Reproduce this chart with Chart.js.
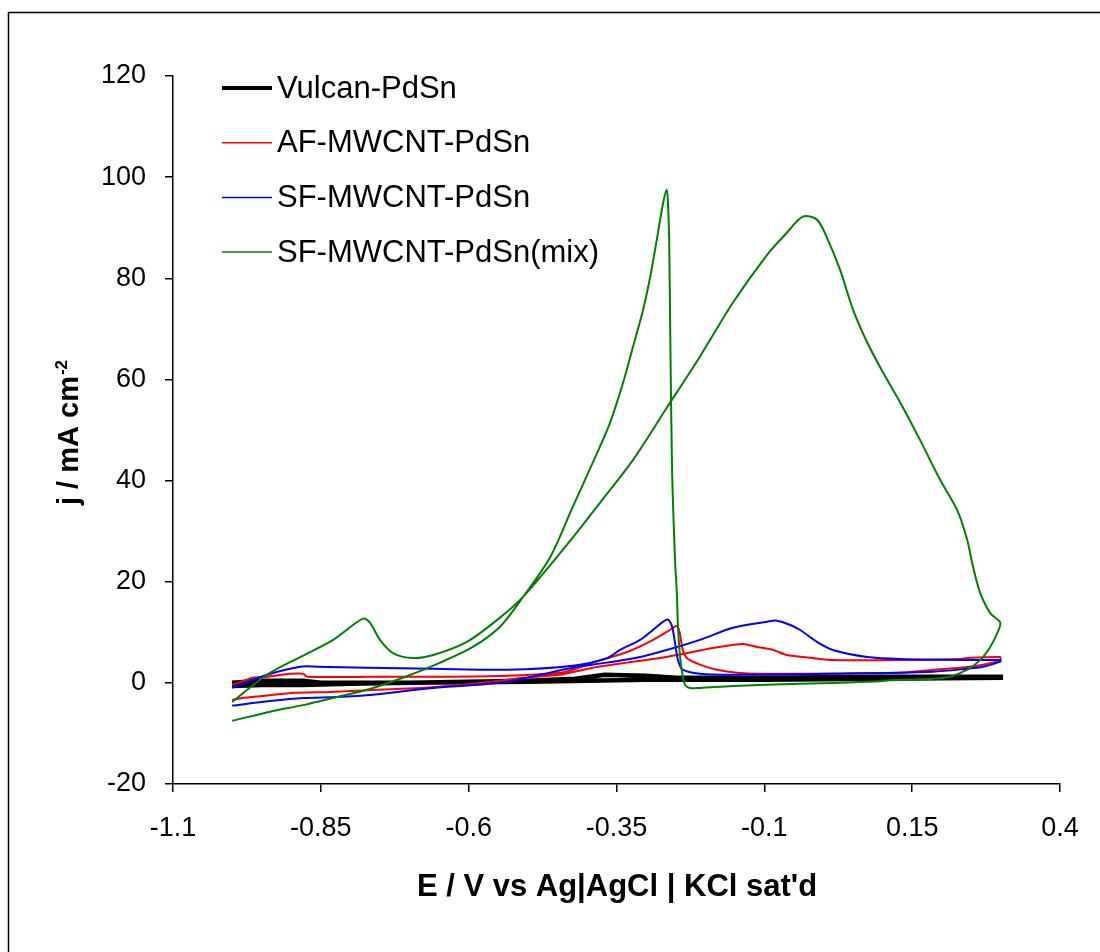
<!DOCTYPE html>
<html>
<head>
<meta charset="utf-8">
<script src="https://cdn.jsdelivr.net/npm/chart.js@4/dist/chart.umd.min.js"></script>
<style>
  html, body { margin: 0; padding: 0; background: #fff; }
</style>
</head>
<body>
<canvas id="cv" width="1100" height="952"></canvas>
<script>
// potential (V) and current density (mA cm-2), forward scan then reverse scan
var vulcanE = [-1.000, -0.950, -0.880, -0.800, -0.700, -0.600, -0.500, -0.420, -0.370, -0.300, -0.250, -0.100, 0.100, 0.300,
               0.300, 0.100, -0.100, -0.300, -0.500, -0.700, -0.850, -0.880, -0.950, -1.000];
var vulcanJ = [-0.6, -0.4, -0.4, -0.2, 0.0, 0.2, 0.4, 0.8, 1.6, 1.4, 1.0, 1.0, 1.2, 1.2,
               1.0, 0.8, 0.6, 0.6, 0.2, 0.0, 0.0, 0.4, 0.4, 0.0];

var afE = [-1.000, -0.983, -0.949, -0.899, -0.834, -0.762, -0.682, -0.615, -0.564, -0.508, -0.446, -0.390, -0.332, -0.276, -0.221, -0.187, -0.136, -0.112, -0.085, -0.062, -0.018, 0.016, 0.130, 0.231, 0.243, 0.299,
           0.299, 0.270, 0.231, 0.185, 0.130, -0.107, -0.146, -0.180, -0.209, -0.231, -0.238, -0.243, -0.248, -0.259, -0.288, -0.332, -0.390, -0.424, -0.446, -0.535, -0.648, -0.767, -0.873, -0.880, -0.902, -0.941, -0.965, -1.000];
var afJ = [-3.4, -3.0, -2.6, -2.0, -1.8, -1.4, -1.0, -0.4, 0.2, 1.0, 1.6, 3.0, 4.0, 4.9, 6.1, 6.9, 7.7, 7.1, 6.5, 5.5, 4.9, 4.5, 4.5, 4.7, 4.9, 5.1,
           4.5, 3.6, 3.0, 2.6, 2.0, 1.8, 2.0, 2.6, 3.6, 4.9, 6.5, 9.9, 11.3, 10.5, 8.5, 6.1, 4.0, 2.6, 2.0, 1.4, 1.2, 1.2, 1.2, 1.8, 1.8, 1.2, 1.0, -0.4];

var sfE = [-1.000, -0.936, -0.880, -0.823, -0.767, -0.660, -0.547, -0.479, -0.424, -0.366, -0.310, -0.265, -0.209, -0.153, -0.095, -0.079, -0.057, -0.040, -0.011, 0.016, 0.074, 0.130, 0.243, 0.299,
           0.299, 0.270, 0.243, 0.185, 0.016, -0.153, -0.209, -0.238, -0.246, -0.251, -0.256, -0.263, -0.271, -0.288, -0.310, -0.344, -0.366, -0.424, -0.535, -0.660, -0.772, -0.856, -0.885, -0.941, -1.000];
var sfJ = [-4.5, -3.6, -3.0, -2.8, -2.4, -1.0, 0.0, 1.6, 3.0, 4.0, 5.1, 6.5, 8.5, 10.9, 12.1, 12.3, 11.5, 10.5, 8.1, 6.5, 5.1, 4.7, 4.5, 4.5,
           4.2, 3.2, 2.8, 2.2, 1.8, 1.6, 1.8, 2.6, 4.5, 7.9, 11.1, 12.5, 12.1, 10.5, 8.5, 6.5, 4.9, 3.4, 2.6, 2.8, 3.0, 3.2, 3.2, 1.6, -1.0];

var mixE = [-1.000, -0.941, -0.885, -0.829, -0.779, -0.767, -0.750, -0.728, -0.694, -0.660, -0.603, -0.547, -0.508, -0.462, -0.420, -0.378, -0.322, -0.265, -0.209, -0.153, -0.095, -0.062, -0.035, -0.011, 0.006, 0.028, 0.050, 0.074, 0.101, 0.130, 0.163, 0.197, 0.226, 0.243, 0.253, 0.265, 0.282, 0.299,
            0.294, 0.282, 0.265, 0.243, 0.214, 0.185, 0.130, 0.074, -0.040, -0.153, -0.209, -0.226, -0.234, -0.239, -0.243, -0.246, -0.248, -0.251, -0.256, -0.259, -0.261, -0.263, -0.265, -0.271, -0.281, -0.293, -0.305, -0.322, -0.339, -0.361, -0.378, -0.424, -0.462, -0.508, -0.547, -0.593, -0.648, -0.716, -0.767, -0.823, -0.880, -0.936, -1.000];
var mixJ = [-3.8, 1.6, 5.1, 8.5, 12.7, 11.9, 8.5, 5.9, 4.9, 5.5, 8.1, 12.9, 17.0, 23.3, 29.3, 35.6, 44.1, 54.4, 64.5, 75.2, 84.7, 89.0, 92.2, 91.6, 88.0, 81.7, 73.8, 67.3, 61.3, 55.4, 48.1, 40.2, 34.2, 28.3, 22.9, 17.8, 13.8, 11.9,
            9.9, 7.1, 4.5, 2.6, 1.2, 0.8, 0.6, 0.2, -0.2, -0.6, -1.0, -1.0, -0.4, 2.0, 5.9, 11.1, 17.8, 24.3, 42.1, 68.4, 88.2, 95.0, 97.5, 95.0, 88.2, 80.3, 73.8, 66.5, 59.3, 51.4, 46.7, 34.8, 24.9, 17.0, 11.1, 7.1, 4.0, 0.8, -1.2, -2.8, -4.4, -5.7, -7.5];

var seriesNames = ['Vulcan-PdSn', 'AF-MWCNT-PdSn', 'SF-MWCNT-PdSn', 'SF-MWCNT-PdSn(mix)'];
var seriesColors = ['#000000', '#ff0000', '#0000ff', '#008000'];
var xTicks = [-1.1, -0.85, -0.6, -0.35, -0.1, 0.15, 0.4];
var yTicks = [-20, 0, 20, 40, 60, 80, 100, 120];

var FONT = '"Liberation Sans", Arial, sans-serif';

function pts(xs, ys) {
  return xs.map(function (x, i) { return { x: x, y: ys[i] }; });
}

// frame, legend and axis titles drawn by hand
var decor = {
  id: 'decor',
  beforeDraw: function (chart) {
    var ctx = chart.ctx;
    ctx.save();
    ctx.fillStyle = '#fff';
    ctx.fillRect(0, 0, chart.width, chart.height);
    ctx.strokeStyle = '#000';
    ctx.lineWidth = 1.5;
    ctx.strokeRect(8.5, 12.5, 1200, 1000);
    ctx.restore();
  },
  afterDraw: function (chart) {
    var ctx = chart.ctx;
    ctx.save();
    // legend
    var widths = [4, 1.5, 1.5, 1.5];
    ctx.font = '31px ' + FONT;
    ctx.textBaseline = 'middle';
    ctx.textAlign = 'left';
    for (var i = 0; i < seriesNames.length; i++) {
      var y = 88 + i * 54.7;
      ctx.strokeStyle = seriesColors[i];
      ctx.lineWidth = widths[i];
      ctx.beginPath();
      ctx.moveTo(222, y);
      ctx.lineTo(272, y);
      ctx.stroke();
      ctx.fillStyle = '#000';
      ctx.fillText(seriesNames[i], 277, y + 1);
    }
    // y title
    ctx.translate(78, 505);
    ctx.rotate(-Math.PI / 2);
    ctx.textBaseline = 'alphabetic';
    ctx.font = 'bold 29px ' + FONT;
    var main = 'j / mA cm';
    ctx.fillText(main, 0, 0);
    var w = ctx.measureText(main).width;
    ctx.font = 'bold 17px ' + FONT;
    ctx.fillText('-2', w + 1, -11);
    ctx.setTransform(1, 0, 0, 1, 0, 0);
    // x title
    ctx.font = 'bold 31px ' + FONT;
    ctx.textAlign = 'center';
    ctx.fillText("E / V vs Ag|AgCl | KCl sat'd", 617, 896);
    ctx.restore();
  }
};

var lineBase = { showLine: true, pointRadius: 0, fill: false };

new Chart(document.getElementById('cv'), {
  type: 'scatter',
  data: {
    datasets: [
      Object.assign({ label: seriesNames[0], data: pts(vulcanE, vulcanJ), borderColor: seriesColors[0], borderWidth: 4.5, order: 4, tension: 0 }, lineBase),
      Object.assign({ label: seriesNames[1], data: pts(afE, afJ), borderColor: seriesColors[1], borderWidth: 2, order: 3, tension: 0.2 }, lineBase),
      Object.assign({ label: seriesNames[2], data: pts(sfE, sfJ), borderColor: seriesColors[2], borderWidth: 2, order: 2, tension: 0.3 }, lineBase),
      Object.assign({ label: seriesNames[3], data: pts(mixE, mixJ), borderColor: seriesColors[3], borderWidth: 2, order: 1, tension: 0.3 }, lineBase)
    ]
  },
  options: {
    responsive: false,
    animation: false,
    layout: { padding: { top: 76, right: 40, bottom: 0, left: 0 } },
    plugins: { legend: { display: false }, tooltip: { enabled: false } },
    scales: {
      x: {
        type: 'linear',
        position: 'bottom',
        min: -1.1,
        max: 0.4,
        afterBuildTicks: function (s) { s.ticks = xTicks.map(function (v) { return { value: v }; }); },
        afterFit: function (s) { s.height = 168; },
        grid: { display: true, drawOnChartArea: false, drawTicks: true, tickLength: 8, color: '#000', lineWidth: 1.5 },
        border: { display: true, color: '#000', width: 1.5 },
        ticks: {
          font: { family: FONT, size: 27 }, color: '#000', padding: 20,
          maxRotation: 0, autoSkip: false,
          callback: function (v) { return String(v); }
        }
      },
      y: {
        type: 'linear',
        min: -20,
        max: 120,
        afterBuildTicks: function (s) { s.ticks = yTicks.map(function (v) { return { value: v }; }); },
        afterFit: function (s) { s.width = 173; },
        grid: { display: true, drawOnChartArea: false, drawTicks: true, tickLength: 8, color: '#000', lineWidth: 1.5 },
        border: { display: true, color: '#000', width: 1.5 },
        ticks: {
          font: { family: FONT, size: 27 }, color: '#000', padding: 19,
          autoSkip: false,
          callback: function (v) { return String(v); }
        }
      }
    }
  },
  plugins: [decor]
});
</script>
</body>
</html>
